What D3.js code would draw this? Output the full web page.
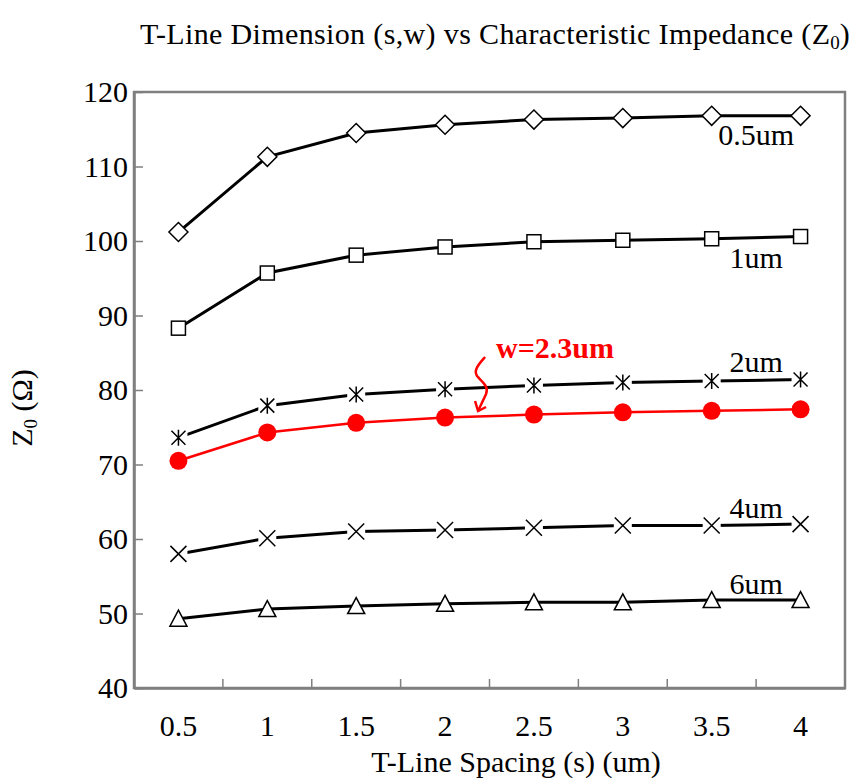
<!DOCTYPE html>
<html>
<head>
<meta charset="utf-8">
<script src="https://cdn.jsdelivr.net/npm/d3@7"></script>
<style>
  body { margin: 0; background: #fff; }
  svg text { font-family: "Liberation Serif", "Times New Roman", serif; }
</style>
</head>
<body>
<svg id="chart"></svg>
<script>
// Spacing values (category axis)
const spacing = ["0.5", "1", "1.5", "2", "2.5", "3", "3.5", "4"];
const y_ticks = [40, 50, 60, 70, 80, 90, 100, 110, 120];

// Impedance values per line width
const z_w05 = [101.2, 111.3, 114.5, 115.6, 116.3, 116.5, 116.8, 116.8];
const z_w1 = [88.3, 95.7, 98.1, 99.2, 99.9, 100.1, 100.3, 100.6];
const z_w2 = [73.6, 77.9, 79.4, 80.1, 80.6, 81.0, 81.2, 81.4];
const z_w23 = [70.5, 74.3, 75.6, 76.3, 76.7, 77.0, 77.2, 77.4];
const z_w4 = [58.0, 60.1, 61.0, 61.2, 61.5, 61.8, 61.8, 62.0];
const z_w6 = [49.3, 50.6, 51.0, 51.3, 51.5, 51.5, 51.8, 51.8];

const series = [
    { name: "0.5um", values: z_w05, marker: "diamond", color: "#000", dy: 29 },
    { name: "1um", values: z_w1, marker: "square", color: "#000", dy: 31 },
    { name: "2um", values: z_w2, marker: "asterisk", color: "#000", dy: -8 },
    { name: "w=2.3um", values: z_w23, marker: "circle", color: "#ff0000", dy: null },
    { name: "4um", values: z_w4, marker: "cross", color: "#000", dy: -6 },
    { name: "6um", values: z_w6, marker: "triangle", color: "#000", dy: -6 }
];

const width = 850, height = 782;
const margins = { top: 92, right: 5, bottom: 94, left: 134 };
const font_size = "30px";

const svg = d3.select("#chart").attr("width", width).attr("height", height);

const x_scale = d3.scaleBand()
    .domain(spacing)
    .range([margins.left, width - margins.right]);
const y_scale = d3.scaleLinear()
    .domain([40, 120])
    .range([height - margins.bottom, margins.top]);

const xc = d => x_scale(d) + x_scale.bandwidth() / 2;

// Title
const title = svg.append("text")
    .attr("x", 140).attr("y", 44)
    .style("font-size", font_size);
title.append("tspan").attr("textLength", 690).attr("lengthAdjust", "spacing")
    .text("T-Line Dimension (s,w) vs Characteristic Impedance (Z");
title.append("tspan").style("font-size", "19px").attr("dy", 5).text("0");
title.append("tspan").attr("dy", -5).text(")");

// Frame
const frame_color = "#7f7f7f";
svg.append("rect")
    .attr("x", margins.left).attr("y", margins.top)
    .attr("width", width - margins.right - margins.left)
    .attr("height", height - margins.bottom - margins.top)
    .attr("fill", "none").attr("stroke", frame_color).attr("stroke-width", 2.5);

// Y axis with inside ticks
const y_axis = svg.append("g")
    .attr("transform", `translate(${margins.left},0)`)
    .call(d3.axisLeft(y_scale).tickValues(y_ticks).tickSizeInner(-9).tickSizeOuter(0).tickPadding(6));
y_axis.select(".domain").attr("stroke", frame_color).attr("stroke-width", 2.5);
y_axis.selectAll(".tick line").attr("stroke", frame_color).attr("stroke-width", 1.5);
y_axis.selectAll("text").style("font-size", font_size).attr("fill", "#000")
    .style("font-family", "'Liberation Serif', serif");

// X axis: ticks on band boundaries, labels centred in bands
const x_axis = svg.append("g")
    .attr("transform", `translate(0,${height - margins.bottom})`)
    .call(d3.axisBottom(x_scale).tickSize(0).tickPadding(27));
x_axis.select(".domain").attr("stroke", frame_color).attr("stroke-width", 2.5);
x_axis.selectAll("text").style("font-size", font_size).attr("fill", "#000")
    .style("font-family", "'Liberation Serif', serif");
x_axis.selectAll(".band-tick")
    .data(spacing.slice(1))
    .enter().append("line")
    .attr("x1", d => x_scale(d)).attr("x2", d => x_scale(d))
    .attr("y1", 0).attr("y2", -9)
    .attr("stroke", frame_color).attr("stroke-width", 1.5);

// Axis titles
svg.append("text")
    .attr("x", 516).attr("y", 772)
    .attr("text-anchor", "middle")
    .style("font-size", font_size)
    .text("T-Line Spacing (s) (um)");

const y_title = svg.append("text")
    .attr("transform", "translate(32,408) rotate(-90)")
    .attr("text-anchor", "middle")
    .style("font-size", font_size);
y_title.append("tspan").text("Z");
y_title.append("tspan").style("font-size", "19px").attr("dy", 5).text("0");
y_title.append("tspan").attr("dy", -5).text(" (Ω)");

// Lines
const line = d3.line()
    .x((d, i) => xc(spacing[i]))
    .y(d => y_scale(d));

series.forEach(s => {
    svg.append("path")
        .datum(s.values)
        .attr("d", line)
        .attr("fill", "none")
        .attr("stroke", s.color)
        .attr("stroke-width", s.marker === "circle" ? 2.5 : 3);
});

// Markers
function draw_marker(g, type) {
    if (type === "diamond") {
        g.append("path").attr("d", "M0,-9.5L9.5,0L0,9.5L-9.5,0Z")
            .attr("fill", "#fff").attr("stroke", "#000").attr("stroke-width", 1.5);
    } else if (type === "square") {
        g.append("rect").attr("x", -7).attr("y", -7).attr("width", 14).attr("height", 14)
            .attr("fill", "#fff").attr("stroke", "#000").attr("stroke-width", 1.5);
    } else if (type === "triangle") {
        g.append("path").attr("d", "M0,-8.5L8.5,7.5L-8.5,7.5Z")
            .attr("fill", "#fff").attr("stroke", "#000").attr("stroke-width", 1.5);
    } else if (type === "circle") {
        g.append("circle").attr("r", 9).attr("fill", "#ff0000");
    } else if (type === "cross") {
        g.append("rect").attr("x", -9).attr("y", -9).attr("width", 18).attr("height", 18).attr("fill", "#fff");
        g.append("path").attr("d", "M-8,-8L8,8M-8,8L8,-8")
            .attr("stroke", "#000").attr("stroke-width", 1.5);
    } else if (type === "asterisk") {
        g.append("rect").attr("x", -9).attr("y", -9).attr("width", 18).attr("height", 18).attr("fill", "#fff");
        g.append("path").attr("d", "M-7,-7L7,7M-7,7L7,-7M0,-8L0,8")
            .attr("stroke", "#000").attr("stroke-width", 1.5);
    }
}

series.forEach(s => {
    s.values.forEach((v, i) => {
        const g = svg.append("g")
            .attr("transform", `translate(${xc(spacing[i])},${y_scale(v)})`);
        draw_marker(g, s.marker);
    });
});

// Series labels between the last two points
const label_x = (xc(spacing[6]) + xc(spacing[7])) / 2;
series.filter(s => s.dy !== null).forEach(s => {
    svg.append("text")
        .attr("x", label_x)
        .attr("y", y_scale(s.values[7]) + s.dy)
        .attr("text-anchor", "middle")
        .style("font-size", font_size)
        .text(s.name);
});

// Red annotation for w=2.3um
const ax = xc("2");
svg.append("text")
    .attr("x", ax + 51).attr("y", 358)
    .style("font-size", font_size)
    .style("font-weight", "bold")
    .attr("fill", "#ff0000")
    .text("w=2.3um");
svg.append("path")
    .attr("d", `M${ax + 40},357 C${ax + 34},364 ${ax + 28},370 ${ax + 32},376 C${ax + 37},382 ${ax + 44},386 ${ax + 41},394 L${ax + 33},411`)
    .attr("fill", "none").attr("stroke", "#ff0000").attr("stroke-width", 2.5);
svg.append("path")
    .attr("d", `M${ax + 30},401 L${ax + 33},411 L${ax + 41},407`)
    .attr("fill", "none").attr("stroke", "#ff0000").attr("stroke-width", 2.5);
</script>
</body>
</html>
